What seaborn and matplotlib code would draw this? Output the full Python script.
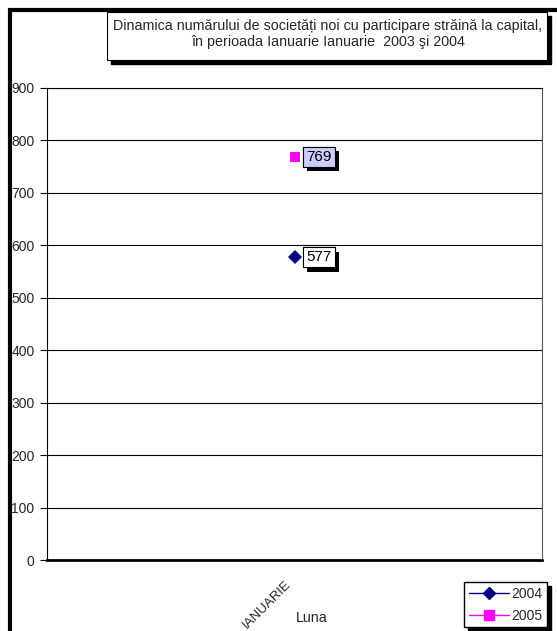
import numpy as np
import pandas as pd
import matplotlib
matplotlib.use("Agg")
import matplotlib.pyplot as plt
import matplotlib.patheffects as pe
import matplotlib.transforms as mtrans
import seaborn as sns
from matplotlib.patches import Rectangle
from matplotlib.lines import Line2D

# Data
months = ["IANUARIE"]
years = ["2004", "2005"]
values_2004 = [577]
values_2005 = [769]
colors = {"2004": "#000080", "2005": "#FF00FF"}
label_fill = {"2004": "white", "2005": "#CCCCFF"}

df = pd.DataFrame({
    "Luna": months * 2,
    "An": ["2004"] * len(months) + ["2005"] * len(months),
    "Valoare": values_2004 + values_2005,
})

sns.set_style("white")
plt.rcParams['font.family'] = ['Liberation Sans', 'DejaVu Sans']

shadow = [pe.withSimplePatchShadow(offset=(3, -3), shadow_rgbFace="black", alpha=1)]

fig = plt.figure(figsize=(5.57, 6.31), dpi=100)
ax = fig.add_axes([47/557, 1-560/631, (542-47)/557, (560-88)/631])

sns.pointplot(data=df, x="Luna", y="Valoare", hue="An", hue_order=years,
              palette=colors, markers=["D", "s"], linestyles="none",
              dodge=False, markersize=7.5, markeredgewidth=0, ax=ax, legend=False)

ax.set_xlim(-0.5, len(months) - 0.5)
ax.set_ylim(0, 900)
ax.set_yticks(np.arange(0, 901, 100))
ax.yaxis.grid(True, color="black", linewidth=0.8)
ax.tick_params(axis="y", direction="out", length=5, width=0.8, color="black",
               labelsize=10, pad=4, left=True)
ax.set_xticks(range(len(months)))
ax.set_xticklabels(months, rotation=45, ha="right", va="top",
                   rotation_mode="anchor", fontsize=9.5)
ax.tick_params(axis="x", length=0, pad=13)
shift = mtrans.ScaledTranslation(-10/100, 0, fig.dpi_scale_trans)
for lbl in ax.get_xticklabels():
    lbl.set_transform(lbl.get_transform() + shift)
ax.set_xticks([-0.5, len(months) - 0.5], minor=True)
ax.tick_params(axis="x", which="minor", direction="out", length=5, width=0.8, color="black")
ax.set_xlabel("")
ax.set_ylabel("")
for side in ["left", "top"]:
    ax.spines[side].set_color("black")
    ax.spines[side].set_linewidth(0.8)
ax.spines["right"].set_color("#555555")
ax.spines["right"].set_linewidth(0.8)
ax.spines["bottom"].set_color("black")
ax.spines["bottom"].set_linewidth(2)

# data labels with shadow
for yr, vals in zip(years, [values_2004, values_2005]):
    for i, v in enumerate(vals):
        t = ax.annotate(str(v), (i, v), xytext=(8.5, 0), textcoords="offset points",
                        ha="left", va="center", fontsize=11, color="black",
                        bbox=dict(boxstyle="square,pad=0.2", fc=label_fill[yr], ec="black", lw=0.8))
        t.get_bbox_patch().set_path_effects(shadow + [pe.Normal()])

# title box with shadow
fig.add_artist(Rectangle((111/557, 1-64/631), 440/557, 48/631, transform=fig.transFigure,
                         facecolor="black", edgecolor="black", zorder=5))
fig.add_artist(Rectangle((107/557, 1-60/631), 440/557, 48/631, transform=fig.transFigure,
                         facecolor="white", edgecolor="black", linewidth=0.8, zorder=6))
fig.text(328/557, 1-34/631,
         "Dinamica numărului de societăți noi cu participare străină la capital,\n"
         "în perioada Ianuarie Ianuarie  2003 şi 2004",
         ha="center", va="center", fontsize=10.3, linespacing=1.15, zorder=7)

fig.text(312/557, 1-618/631, "Luna", ha="center", va="center", fontsize=10.3)

# legend
handles = [Line2D([0], [0], color=colors[y], marker=m, markersize=6.5, lw=1)
           for y, m in zip(years, ["D", "s"])]
fig.legend(handles, years, loc="upper left", bbox_to_anchor=(464/557, 1-582/631),
           frameon=True, fancybox=False, edgecolor="black", fontsize=10,
           handlelength=2.9, borderpad=0.35, labelspacing=0.55, handletextpad=0.15,
           borderaxespad=0,
           shadow={"color": "black", "alpha": 1, "ox": 3, "oy": -3})

# outer frame (cropped)
fig.add_artist(Rectangle((10/557, -0.2), 1.2, 1.2 - 10/631, transform=fig.transFigure,
                         fill=False, edgecolor="black", linewidth=3, zorder=4))

fig.savefig("out.png", dpi=100)
